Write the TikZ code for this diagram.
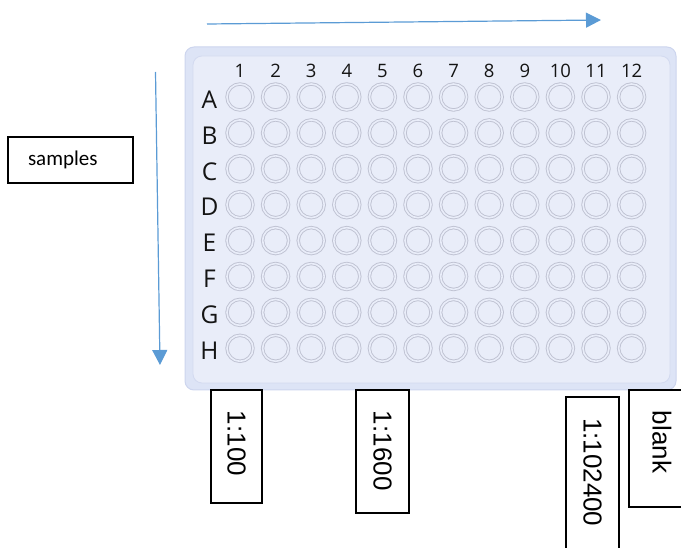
\documentclass[tikz,border=0pt]{standalone}
\usepackage{fontspec}
\setmainfont{Liberation Sans}
\newfontfamily\platefont{Open Sans}
\newfontfamily\calibfont{Carlito}
\usetikzlibrary{arrows.meta}
\definecolor{arrowblue}{HTML}{5B9BD5}
\definecolor{plateout}{HTML}{DDE4F6}
\definecolor{plateedge}{HTML}{CDD5EE}
\definecolor{platein}{HTML}{E9EDF9}
\definecolor{plateinedge}{HTML}{D3DAF0}
\definecolor{wellring}{HTML}{BFC2D2}
\definecolor{inkdark}{HTML}{141414}
\begin{document}
\begin{tikzpicture}[x=1pt,y=-1pt,
  flow/.style={draw=arrowblue,line width=1.2pt,-{Triangle[length=15pt,width=15pt]}},
  well/.style={circle,draw=wellring,line width=0.9pt,double=platein,double distance=1.6pt,minimum size=26pt,inner sep=0pt,fill=platein},
  colnum/.style={font=\platefont\fontsize{18.5}{22}\selectfont,text=inkdark,inner sep=0pt},
  rowlet/.style={font=\platefont\fontsize{24.5}{28}\selectfont,text=inkdark,inner sep=0pt},
  labelbox/.style={draw=black,line width=1.4pt,rectangle,align=left,font=\fontsize{26}{30}\selectfont,inner xsep=21pt,inner ysep=0pt},
  vlabel/.style={labelbox,rotate=-90}]
\useasboundingbox (0,0) rectangle (681,548);

% plate body
\draw[fill=plateout,draw=plateedge,line width=1pt,rounded corners=9pt] (185,47) rectangle (676,390);
\draw[fill=platein,draw=plateinedge,line width=0.8pt,rounded corners=9pt] (193,56) rectangle (670,383);

% column numbers and wells
\foreach \c in {1,...,12}{
  \node[colnum] (n\c) at ({240+35.6*(\c-1)},71) {\c};
}
\foreach \r [count=\i from 0] in {A,B,C,D,E,F,G,H}{
  \node[rowlet] (r\r) at (209.5,{99.5+35.9*\i}) {\r};
  \foreach \c in {1,...,12}{
    \node[well] (\r\c) at ({240+35.6*(\c-1)},{97+35.9*\i}) {};
  }
}

% direction arrows
\coordinate (h0) at (207,24);
\coordinate (h1) at (601,20);
\draw[flow] (h0) -- (h1);
\coordinate (v0) at (155.5,72);
\coordinate (v1) at (160,365);
\draw[flow] (v0) -- (v1);

% side label
\node[labelbox,font=\calibfont\fontsize{21}{25}\selectfont,inner xsep=20pt,text width=85pt,minimum height=46pt] (samples) at (70.5,160) {samples};

% dilution labels
\node[vlabel,text width=71pt,minimum height=51pt] (d100) at (236.5,446.5) {1:100};
\node[vlabel,text width=81pt,minimum height=53pt] (d1600) at (382.5,451.5) {1:1600};
\node[vlabel,text width=131pt,minimum height=53pt] (d102400) at (592.5,483.5) {1:102400};
\node[vlabel,text width=75pt,minimum height=66pt] (blank) at (662,448.5) {blank};
\end{tikzpicture}
\end{document}
